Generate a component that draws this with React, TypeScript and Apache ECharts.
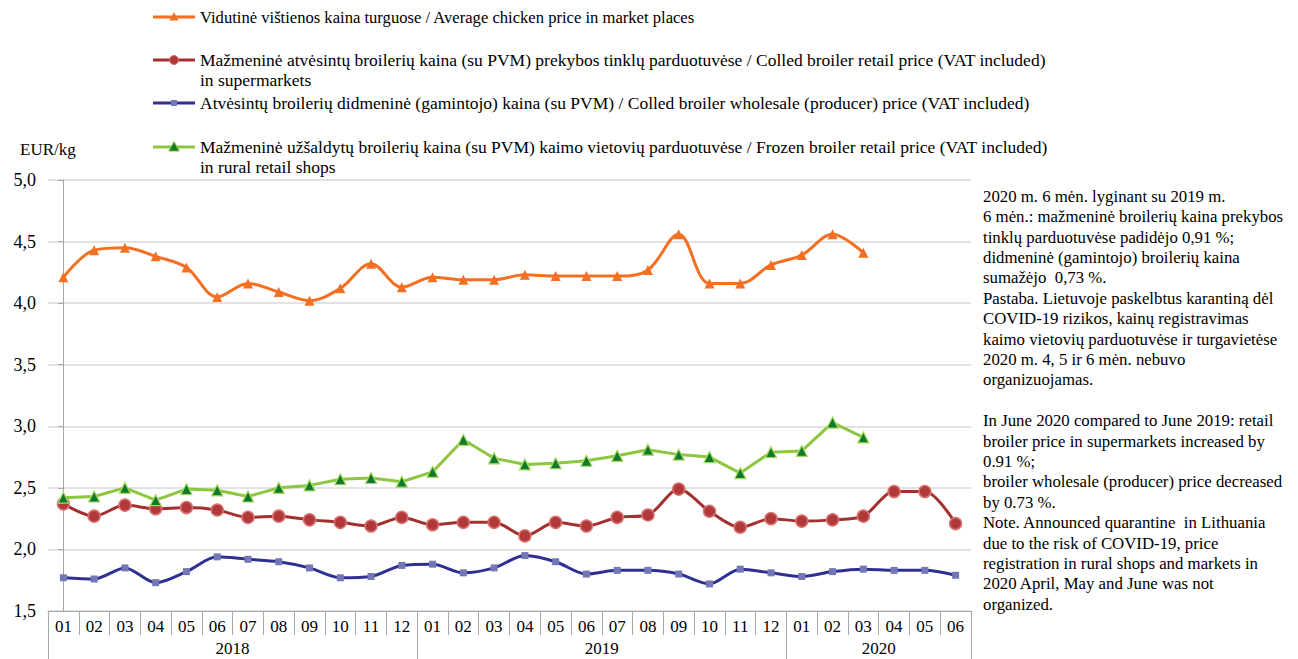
import React, { useEffect, useRef } from 'react';
import * as echarts from 'echarts';

const monthLabels = ['01','02','03','04','05','06','07','08','09','10','11','12','01','02','03','04','05','06','07','08','09','10','11','12','01','02','03','04','05','06'];
const yearLabels = ['2018', '2019', '2020'];
const yearMonthCounts = [12, 12, 6];

const marketPrice = [4.21, 4.43, 4.45, 4.38, 4.29, 4.05, 4.16, 4.09, 4.02, 4.12, 4.32, 4.13, 4.21, 4.19, 4.19, 4.23, 4.22, 4.22, 4.22, 4.27, 4.56, 4.16, 4.16, 4.31, 4.39, 4.56, 4.41, null, null, null];
const retailSupermarket = [2.37, 2.27, 2.36, 2.33, 2.34, 2.32, 2.26, 2.27, 2.24, 2.22, 2.19, 2.26, 2.20, 2.22, 2.22, 2.11, 2.22, 2.19, 2.26, 2.28, 2.49, 2.31, 2.18, 2.25, 2.23, 2.24, 2.27, 2.47, 2.47, 2.21];
const wholesale = [1.77, 1.76, 1.85, 1.73, 1.82, 1.94, 1.92, 1.90, 1.85, 1.77, 1.78, 1.87, 1.88, 1.81, 1.85, 1.95, 1.90, 1.80, 1.83, 1.83, 1.80, 1.72, 1.84, 1.81, 1.78, 1.82, 1.84, 1.83, 1.83, 1.79];
const frozenRural = [2.42, 2.43, 2.50, 2.40, 2.49, 2.48, 2.43, 2.50, 2.52, 2.57, 2.58, 2.55, 2.63, 2.89, 2.74, 2.69, 2.70, 2.72, 2.76, 2.81, 2.77, 2.75, 2.62, 2.79, 2.80, 3.03, 2.91, null, null, null];

const seriesNames = [
  'Vidutinė vištienos kaina turguose / Average chicken price in market places',
  'Mažmeninė atvėsintų broilerių kaina (su PVM) prekybos tinklų parduotuvėse / Colled broiler retail price (VAT included)\nin supermarkets',
  'Atvėsintų broilerių didmeninė (gamintojo) kaina (su PVM) / Colled broiler wholesale (producer) price (VAT included)',
  'Mažmeninė užšaldytų broilerių kaina (su PVM) kaimo vietovių parduotuvėse / Frozen broiler retail price (VAT included)\nin rural retail shops',
];

const yAxisTitle = 'EUR/kg';

const noteLines = [
  '2020 m. 6 mėn. lyginant su 2019 m.',
  '6 mėn.: mažmeninė broilerių kaina prekybos',
  'tinklų parduotuvėse padidėjo 0,91 %;',
  'didmeninė (gamintojo) broilerių kaina',
  'sumažėjo  0,73 %.',
  'Pastaba. Lietuvoje paskelbtus karantiną dėl',
  'COVID-19 rizikos, kainų registravimas',
  'kaimo vietovių parduotuvėse ir turgavietėse',
  '2020 m. 4, 5 ir 6 mėn. nebuvo',
  'organizuojamas.',
  '',
  'In June 2020 compared to June 2019: retail',
  'broiler price in supermarkets increased by',
  '0.91 %;',
  'broiler wholesale (producer) price decreased',
  'by 0.73 %.',
  'Note. Announced quarantine  in Lithuania',
  'due to the risk of COVID-19, price',
  'registration in rural shops and markets in',
  '2020 April, May and June was not',
  'organized.',
];

const FONT = 'Liberation Serif';
const ORANGE = '#F36F21';
const RED_LINE = '#A3302F';
const RED_FILL = '#B2393A';
const RED_BORDER = '#D77370';
const BLUE_LINE = '#2E3192';
const BLUE_FILL = '#7477B5';
const GREEN_LINE = '#8DC63F';
const GREEN_FILL = '#0E7A2E';
const GRID_COLOR = '#D9D9D9';
const AXIS_COLOR = '#A6A6A6';

export default function App() {
  const ref = useRef<HTMLDivElement>(null);

  useEffect(() => {
    if (!ref.current) return;
    const chart = echarts.init(ref.current, undefined, { renderer: 'svg' });

    const yearBoundaries: number[] = [-0.5];
    const yearCenters: number[] = [];
    let acc = -0.5;
    yearMonthCounts.forEach((c) => {
      yearCenters.push(acc + c / 2);
      acc += c;
      yearBoundaries.push(acc);
    });

    const legendX1 = 153;
    const legendX2 = 195;
    const legendMid = (legendX1 + legendX2) / 2;
    const legendRows = [17, 60, 103, 147];
    const lineH = 19.5;

    const tri = (cx: number, cy: number, s: number) => [
      [cx, cy - s * 0.6],
      [cx + s * 0.58, cy + s * 0.45],
      [cx - s * 0.58, cy + s * 0.45],
    ];

    const legendMarkers: any[] = [
      { type: 'polygon', shape: { points: tri(legendMid, legendRows[0], 8) }, style: { fill: ORANGE } },
      { type: 'circle', shape: { cx: legendMid, cy: legendRows[1], r: 4.5 }, style: { fill: RED_FILL, stroke: RED_BORDER, lineWidth: 1 } },
      { type: 'rect', shape: { x: legendMid - 3, y: legendRows[2] - 3, width: 6, height: 6 }, style: { fill: BLUE_FILL } },
      { type: 'polygon', shape: { points: tri(legendMid, legendRows[3], 9) }, style: { fill: GREEN_FILL, stroke: GREEN_LINE, lineWidth: 1 } },
    ];
    const legendColors = [ORANGE, RED_LINE, BLUE_LINE, GREEN_LINE];
    const legendFontSizes = [16.6, 17.5, 17.5, 17.5];

    const legendGraphics: any[] = [];
    seriesNames.forEach((name, i) => {
      const y = legendRows[i];
      legendGraphics.push({
        type: 'line',
        shape: { x1: legendX1, y1: y, x2: legendX2, y2: y },
        style: { stroke: legendColors[i], lineWidth: 3 },
      });
      legendGraphics.push(legendMarkers[i]);
      legendGraphics.push({
        type: 'text',
        x: 200,
        y: y - lineH / 2,
        style: {
          text: name,
          fontFamily: FONT,
          fontSize: legendFontSizes[i],
          lineHeight: lineH,
          fill: '#000',
          textVerticalAlign: 'top',
        },
      });
    });

    const option: any = {
      animation: false,
      textStyle: { fontFamily: FONT },
      grid: { left: 48, right: 327, top: 180, bottom: 48 },
      xAxis: [
        {
          type: 'category',
          data: monthLabels,
          boundaryGap: true,
          position: 'bottom',
          axisLine: { show: true, lineStyle: { color: AXIS_COLOR, width: 1 } },
          axisTick: { show: true, interval: 0, length: 24, lineStyle: { color: AXIS_COLOR } },
          axisLabel: { interval: 0, fontSize: 17, color: '#000', margin: 7, fontFamily: FONT },
          splitLine: { show: false },
        },
        {
          type: 'value',
          position: 'bottom',
          offset: 24,
          min: -0.5,
          max: monthLabels.length - 0.5,
          axisLine: { show: false },
          splitLine: { show: false },
          axisTick: { show: true, customValues: yearBoundaries, length: 24, lineStyle: { color: AXIS_COLOR } },
          axisLabel: {
            customValues: yearCenters,
            fontSize: 17,
            color: '#000',
            margin: 5,
            fontFamily: FONT,
            formatter: (v: number) => {
              const idx = yearCenters.findIndex((c) => Math.abs(c - v) < 1e-6);
              return idx >= 0 ? yearLabels[idx] : '';
            },
          },
        },
      ],
      yAxis: {
        type: 'value',
        min: 1.5,
        max: 5,
        interval: 0.5,
        axisLine: { show: true, lineStyle: { color: AXIS_COLOR } },
        axisTick: { show: true, length: 5, lineStyle: { color: AXIS_COLOR } },
        axisLabel: {
          fontSize: 18,
          color: '#000',
          margin: 12,
          fontFamily: FONT,
          formatter: (v: number) => v.toFixed(1).replace('.', ','),
        },
        splitLine: { show: true, lineStyle: { color: GRID_COLOR, width: 1.5 } },
      },
      series: [
        {
          name: seriesNames[0],
          type: 'line',
          data: marketPrice,
          smooth: 0.35,
          symbol: 'triangle',
          symbolSize: 10,
          itemStyle: { color: ORANGE },
          lineStyle: { color: ORANGE, width: 3 },
          z: 4,
        },
        {
          name: seriesNames[1],
          type: 'line',
          data: retailSupermarket,
          smooth: 0.3,
          symbol: 'circle',
          symbolSize: 12,
          itemStyle: { color: RED_FILL, borderColor: RED_BORDER, borderWidth: 1.5 },
          lineStyle: { color: RED_LINE, width: 3 },
          z: 3,
        },
        {
          name: seriesNames[2],
          type: 'line',
          data: wholesale,
          smooth: 0.3,
          symbol: 'rect',
          symbolSize: 7,
          itemStyle: { color: BLUE_FILL },
          lineStyle: { color: BLUE_LINE, width: 3 },
          z: 2,
        },
        {
          name: seriesNames[3],
          type: 'line',
          data: frozenRural,
          smooth: false,
          symbol: 'triangle',
          symbolSize: 11,
          itemStyle: { color: GREEN_FILL, borderColor: '#A6D85A', borderWidth: 1.2 },
          lineStyle: { color: GREEN_LINE, width: 3 },
          z: 3,
        },
      ],
      graphic: [
        ...legendGraphics,
        {
          type: 'text',
          x: 20,
          y: 149,
          style: { text: yAxisTitle, fontFamily: FONT, fontSize: 17, fill: '#000', textVerticalAlign: 'middle' },
        },
        {
          type: 'text',
          x: 983,
          y: 186,
          style: {
            text: noteLines.join('\n'),
            fontFamily: FONT,
            fontSize: 16.8,
            lineHeight: 20.4,
            fill: '#000',
            textVerticalAlign: 'top',
          },
        },
      ],
    };

    chart.setOption(option);
    return () => chart.dispose();
  }, []);

  return (
    <div
      ref={ref}
      style={{ position: 'fixed', left: 0, top: 0, width: 1298, height: 659, background: '#fff' }}
    />
  );
}
